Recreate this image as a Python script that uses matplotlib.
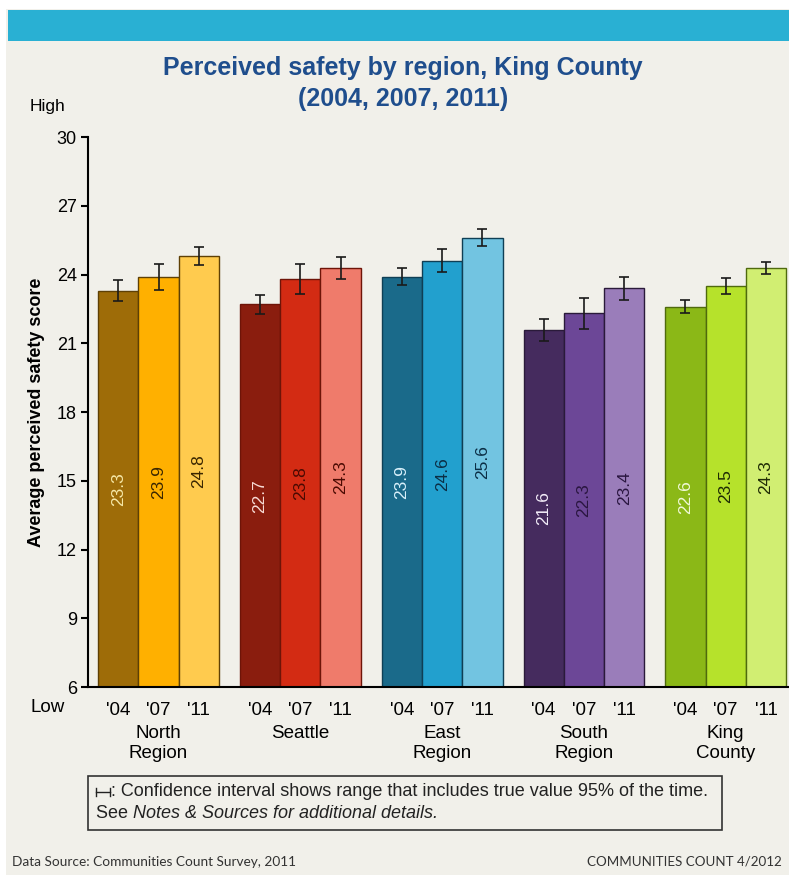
import matplotlib
matplotlib.use("Agg")
from matplotlib import pyplot as plt
from matplotlib.patches import Rectangle
from matplotlib.lines import Line2D
import numpy as np

# data
regions = ["North\nRegion", "Seattle", "East\nRegion", "South\nRegion", "King\nCounty"]
years = ["'04", "'07", "'11"]
scores = [
    [23.3, 23.9, 24.8],
    [22.7, 23.8, 24.3],
    [23.9, 24.6, 25.6],
    [21.6, 22.3, 23.4],
    [22.6, 23.5, 24.3],
]
ci_halfwidth = [
    [0.46, 0.57, 0.40],
    [0.42, 0.66, 0.48],
    [0.37, 0.50, 0.37],
    [0.48, 0.66, 0.50],
    [0.28, 0.35, 0.26],
]

colors = [
    ["#9E6C08", "#FFB000", "#FFCB4E"],
    ["#8A1D0E", "#D32B13", "#EF7B6B"],
    ["#1A6A8A", "#22A0CE", "#72C4E1"],
    ["#452B5E", "#6C4797", "#9A7DBA"],
    ["#8BB817", "#B6E22B", "#D1EE72"],
]
edge_colors = ["#5E4005", "#6E1408", "#0F3F55", "#2A1A3A", "#4F6A0D"]
text_colors = [
    ["#F6E8A8", "#3A2600", "#3A2600"],
    ["#F8DCD6", "#4A0A02", "#4A0A02"],
    ["#D8F0FA", "#0B2E45", "#0B2E45"],
    ["#F2ECF8", "#2A1640", "#2A1640"],
    ["#F0F8D8", "#1E2A05", "#1E2A05"],
]

font = "Liberation Sans"
bg = "#F1F0EA"

fig = plt.figure(figsize=(7.89, 8.75), dpi=100)
fig.patch.set_facecolor("white")

# page background and banner
fig.patches.append(Rectangle((0.007, 0), 0.993, 0.99, transform=fig.transFigure,
                             facecolor=bg, edgecolor="none", zorder=-3))
fig.patches.append(Rectangle((0.010, 1 - 41 / 875), 0.99, 31 / 875, transform=fig.transFigure,
                             facecolor="#29B0D3", edgecolor="none", zorder=-2))

ax = fig.add_axes([88 / 789, 1 - 687 / 875, 1 - 88 / 789, 550 / 875])
ax.set_facecolor(bg)

group_step = 3.52
for g in range(len(regions)):
    x = g * group_step + np.arange(3)
    ax.bar(x, np.array(scores[g]) - 6, bottom=6, width=1.0, color=colors[g],
           edgecolor=edge_colors[g], linewidth=1.0, zorder=2)
    ax.errorbar(x, scores[g], yerr=ci_halfwidth[g], fmt="none", ecolor="#1a1a1a",
                elinewidth=1.2, capsize=3.5, capthick=1.2, zorder=3)
    for i in range(3):
        ax.text(x[i], (scores[g][i] + 6) / 2, f"{scores[g][i]:.1f}", rotation=90,
                ha="center", va="center", fontsize=12.5, color=text_colors[g][i],
                family=font, zorder=4)
    for i in range(3):
        ax.text(x[i], -0.027, years[i], transform=ax.get_xaxis_transform(),
                ha="center", va="top", fontsize=13.5, family=font)
    ax.text(x[1], -0.069, regions[g], transform=ax.get_xaxis_transform(),
            ha="center", va="top", fontsize=13.5, family=font, linespacing=1.2)

ax.set_ylim(6, 30)
ax.set_xlim(-0.75, 16.65)
ax.set_yticks(np.arange(6, 31, 3))
ax.set_xticks([])
for lbl in ax.get_yticklabels():
    lbl.set_family(font)
    lbl.set_fontsize(13)
ax.tick_params(axis="y", direction="out", length=5, width=1.5, pad=3)
for side in ["top", "right"]:
    ax.spines[side].set_visible(False)
ax.spines["left"].set_linewidth(1.5)
ax.spines["bottom"].set_linewidth(1.5)

ax.set_ylabel("Average perceived safety score", fontsize=13, fontweight="bold",
              family=font)
ax.yaxis.set_label_coords(-0.061, 0.5)

fig.text(30 / 789, 1 - 107 / 875, "High", fontsize=12.5, family=font, va="center")
fig.text(30 / 789, 1 - 708 / 875, "Low", fontsize=13.5, family=font, va="center")

fig.text(403 / 789, 1 - 68 / 875, "Perceived safety by region, King County",
         ha="center", va="center", fontsize=18, fontweight="bold", color="#1F4E8D",
         family=font)
fig.text(403 / 789, 1 - 99 / 875, "(2004, 2007, 2011)",
         ha="center", va="center", fontsize=18, fontweight="bold", color="#1F4E8D",
         family=font)

# confidence interval note box
fig.patches.append(Rectangle((88 / 789, 1 - 830 / 875), 634 / 789, 54 / 875,
                             transform=fig.transFigure, facecolor="none",
                             edgecolor="#333333", linewidth=1.2))
yl = 1 - 792 / 875
fig.lines.append(Line2D([96 / 789, 110 / 789], [yl, yl], transform=fig.transFigure,
                        color="#222222", linewidth=1))
for xc in (96, 110):
    fig.lines.append(Line2D([xc / 789, xc / 789], [yl - 4 / 875, yl + 4 / 875],
                            transform=fig.transFigure, color="#222222", linewidth=1))
fig.text(111 / 789, yl, ": Confidence interval shows range that includes true value 95% of the time.",
         fontsize=13, family=font, va="center", color="#222222")
t = fig.text(96 / 789, 1 - 813 / 875, "See ", fontsize=13, family=font, va="center",
             color="#222222")
fig.canvas.draw()
bb = t.get_window_extent()
fig.text(bb.x1 / fig.bbox.width, 1 - 813 / 875, "Notes & Sources for additional details.",
         fontsize=13, family=font, style="italic", va="center", color="#222222")

fig.text(12 / 789, 1 - 862 / 875, "Data Source: Communities Count Survey, 2011",
         fontsize=9.8, family="Lato", va="center", color="#333333")
fig.text(782 / 789, 1 - 862 / 875, "COMMUNITIES COUNT 4/2012",
         fontsize=9.6, family="Lato", va="center", ha="right", color="#333333")

fig.savefig("out.png", dpi=100, facecolor=fig.get_facecolor())
